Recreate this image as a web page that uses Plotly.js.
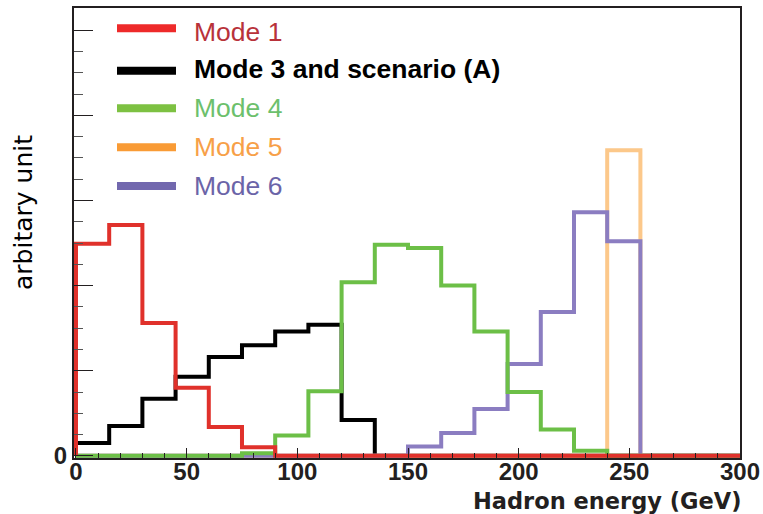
<!DOCTYPE html>
<html>
<head>
<meta charset="utf-8">
<script src="https://cdn.plot.ly/plotly-3.0.1.min.js"></script>
<style>
html,body{margin:0;padding:0;background:#fff;}
#chart{width:763px;height:514px;}
</style>
</head>
<body>
<div id="chart"></div>
<script>
// Bin edges (GeV), 15 GeV bins
const binEdges = [0,15,30,45,60,75,90,105,120,135,150,165,180,195,210,225,240,255,270,285,300];
// Bin contents (arbitrary units; one major y tick = 1)
const mode1 = [2.49,2.71,1.56,0.80,0.34,0.10,0,0,0,0,0,0,0,0,0,0,0,0,0,0];
const mode3A = [0.15,0.35,0.67,0.93,1.16,1.30,1.46,1.54,0.42,0,0,0,0,0,0,0,0,0,0,0];
const mode4 = [0,0,0,0,0,0.03,0.24,0.76,2.04,2.48,2.44,2.00,1.46,0.75,0.31,0.06,0,0,0,0];
const mode5 = [0,0,0,0,0,0,0,0,0,0,0,0,0,0,0,0,3.59,0,0,0];
const mode6 = [0,0,0,0,0,0,0,0,0,0,0.11,0.27,0.55,1.08,1.69,2.86,2.52,0,0,0];

const names = ['Mode 1','Mode 3 and scenario (A)','Mode 4','Mode 5','Mode 6'];
const histColors = ['#e0312b','#000000','#6cbf47','#fcc88a','#8b7dc1'];
const legendLineColors = ['#ee2a2a','#000000','#7dc142','#f99b35','#7268ae'];
const legendTextColors = ['#b8323a','#000000','#6cc06c','#f7a048','#6b64a8'];
const series = [mode1, mode3A, mode4, mode5, mode6];

function outline(vals){
  const x = [binEdges[0]], y = [0];
  for (let i = 0; i < vals.length; i++){ x.push(binEdges[i]); y.push(vals[i]); }
  x.push(binEdges[binEdges.length-1]); y.push(vals[vals.length-1]);
  x.push(binEdges[binEdges.length-1]); y.push(0);
  return {x, y};
}

// draw order: black, orange, purple, green, red on top
const order = [1,3,4,2,0];
const traces = order.map(i => {
  const o = outline(series[i]);
  return {
    type:'scatter', mode:'lines', x:o.x, y:o.y, name:names[i],
    line:{shape:'hv', color:histColors[i], width:4},
    showlegend:false, hoverinfo:'skip'
  };
});

const W = 763, H = 514, L = 74, R = 23, T = 8, B = 56;
const pw = W - L - R, ph = H - T - B;
const px2x = p => (p - L) / pw;
const py2y = p => (H - B - p) / ph;

const legendLineY = [28.3, 70.7, 108.3, 147.3, 186];
const legendTextY = [32, 69, 108, 147, 185.5];
const shapes = [], annotations = [];
for (let i = 0; i < names.length; i++){
  shapes.push({type:'line', xref:'paper', yref:'paper',
    x0:px2x(117), x1:px2x(176), y0:py2y(legendLineY[i]), y1:py2y(legendLineY[i]),
    line:{color:legendLineColors[i], width:8}});
  annotations.push({xref:'paper', yref:'paper', x:px2x(192), y:py2y(legendTextY[i]),
    xanchor:'left', yanchor:'middle', showarrow:false,
    text: i === 1 ? '<b>'+names[i]+'</b>' : names[i],
    font:{family:'Liberation Sans, Arial, sans-serif', size:26.5, color:legendTextColors[i]}});
}
annotations.push({xref:'paper', yref:'paper', x:1.004, y:py2y(501), xanchor:'right', yanchor:'middle',
  showarrow:false, text:'<b>Hadron energy (GeV)</b>',
  font:{family:'DejaVu Sans, sans-serif', size:22.5, color:'#231f20'}});
annotations.push({xref:'paper', yref:'paper', x:px2x(23), y:py2y(213), xanchor:'center', yanchor:'middle',
  showarrow:false, text:'arbitary unit', textangle:-90,
  font:{family:'DejaVu Sans, sans-serif', size:25, color:'#000'}});

const layout = {
  width:W, height:H,
  margin:{l:L, r:R, t:T, b:B, pad:0},
  paper_bgcolor:'#fff', plot_bgcolor:'#fff',
  showlegend:false,
  font:{family:'Liberation Sans, Arial, sans-serif', color:'#231f20'},
  xaxis:{
    range:[-0.9,300], showgrid:false, zeroline:false,
    showline:true, linecolor:'#231f20', linewidth:2, mirror:true,
    ticks:'inside', ticklen:10, tickwidth:1, tickcolor:'#231f20',
    tickmode:'array', tickvals:[0,50,100,150,200,250,300],
    ticktext:['<b>0</b>','<b>50</b>','<b>100</b>','<b>150</b>','<b>200</b>','<b>250</b>','<b>300</b>'],
    tickfont:{size:24, color:'#231f20'},
    ticklabelstandoff:-9,
    minor:{dtick:10, ticks:'inside', ticklen:5, tickcolor:'#231f20', showgrid:false}
  },
  yaxis:{
    range:[-0.025,5.26], showgrid:false, zeroline:false,
    showline:true, linecolor:'#231f20', linewidth:2, mirror:true,
    ticks:'inside', ticklen:19, tickwidth:1, tickcolor:'#231f20',
    tickmode:'array', tickvals:[0,1,2,3,4,5], ticktext:['<b>0</b>','','','','',''],
    tickfont:{size:24, color:'#231f20'},
    minor:{dtick:0.25, ticks:'inside', ticklen:9, tickcolor:'#555', showgrid:false}
  },
  shapes, annotations
};

Plotly.newPlot('chart', traces, layout, {displayModeBar:false, staticPlot:true});
</script>
</body>
</html>
